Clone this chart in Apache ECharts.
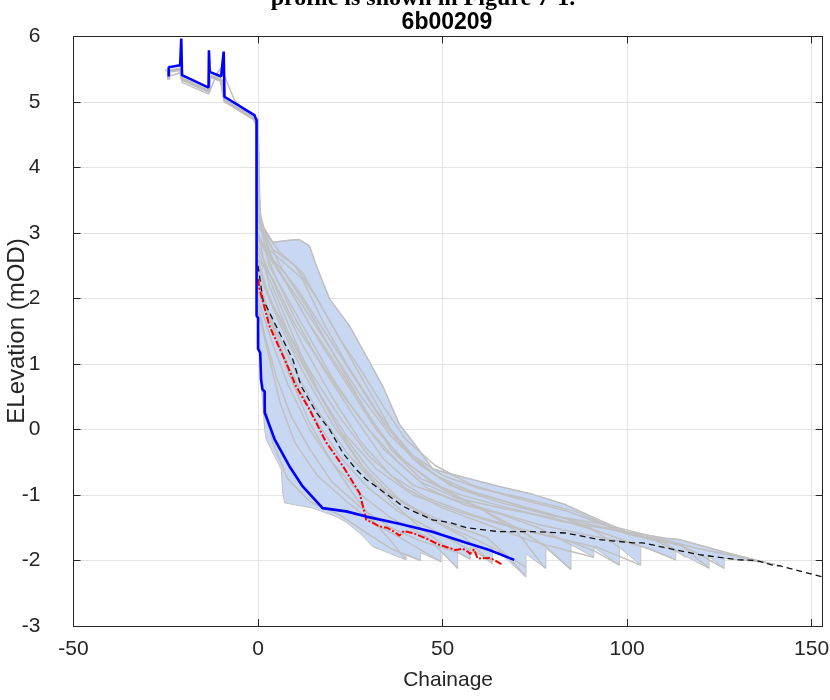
<!DOCTYPE html>
<html><head><meta charset="utf-8">
<script src="https://cdn.jsdelivr.net/npm/echarts@6/dist/echarts.min.js"></script>
<style>html,body{margin:0;padding:0;background:#fff}#c{width:830px;height:700px}</style>
</head><body><div id="c"></div>
<script>
// ---- axis settings ----
const xTickStep = 50, xMin = -50, xMax = 153;
const yTickStep = 1, yMin = -3, yMax = 6;

// ---- measured profile (blue) ----
const measured = [[-24.2,5.39],[-24.2,5.53],[-21.1,5.56],[-20.8,5.97],[-20.6,5.41],[-13.4,5.22],[-13.3,5.79],[-13.1,5.46],[-10,5.39],[-9.3,5.77],[-9.1,5.08],[-1,4.8],[-0.4,4.72],[-0.4,1.74],[0,1.7],[0,1.23],[0.6,1.17],[0.8,0.77],[1.2,0.61],[1.8,0.58],[1.8,0.26],[4.5,-0.15],[8.5,-0.56],[12.1,-0.87],[17.5,-1.2],[23.9,-1.25],[29.3,-1.33],[38.3,-1.44],[47.2,-1.56],[56.4,-1.73],[62.7,-1.84],[69.4,-1.99]];

// ---- red profile ----
const redProfile = [[0,2.3],[0.4,2.15],[3.1,1.58],[7.6,1.02],[10.3,0.66],[13.9,0.31],[18.5,-0.2],[23,-0.56],[27.5,-0.97],[28.8,-1.25],[29.3,-1.38],[31,-1.42],[32.9,-1.48],[35,-1.5],[37.4,-1.58],[38.3,-1.62],[39.5,-1.55],[41.9,-1.58],[45,-1.65],[47.3,-1.71],[49.1,-1.76],[53.6,-1.84],[55.5,-1.82],[56.7,-1.86],[57.5,-1.9],[58.5,-1.83],[59.5,-1.97],[62.7,-1.96],[64,-1.99],[66.3,-2.07]];

// ---- mean profile (black dashed) ----
const meanProfile = [[0,2.5],[1.3,1.99],[4.9,1.58],[9.4,1.07],[11.7,0.66],[15.8,0.26],[19.4,0.0],[23,-0.36],[26.6,-0.61],[29.3,-0.76],[35.6,-1.02],[39.2,-1.17],[41,-1.22],[47.3,-1.38],[52,-1.42],[56.4,-1.5],[65.4,-1.56],[74.4,-1.56],[83.4,-1.58],[92.4,-1.68],[101.5,-1.73],[104.2,-1.73],[110,-1.8],[119.5,-1.91],[130.3,-1.99],[135,-2.0],[139.4,-2.07],[141.2,-2.08],[152.9,-2.25]];

// ---- envelope (shaded) ----
const envUpper = [[0,4.75],[0.3,4.2],[0.5,3.6],[0.8,3.15],[4,2.86],[8.5,2.89],[11.2,2.9],[13.9,2.81],[15.8,2.5],[19.4,1.99],[24.8,1.58],[30,1.05],[33.8,0.66],[38.3,0.08],[42.8,-0.25],[47.3,-0.61],[56.4,-0.74],[65.4,-0.87],[74.4,-0.99],[83.4,-1.15],[92.4,-1.38],[99.7,-1.56],[110.5,-1.66],[114.1,-1.68],[127.6,-1.89],[136.7,-2.02],[140,-2.06]];
const envLower = [[0,4.75],[-0.2,4.6],[-0.2,1.75],[0.2,1.6],[0.6,1.1],[1.0,0.6],[1.8,0.0],[2.2,-0.15],[6.3,-0.61],[6.7,-0.97],[7.2,-1.12],[14.8,-1.2],[21.2,-1.33],[24,-1.42],[27.5,-1.58],[29.3,-1.68],[31.1,-1.79],[35.6,-1.89],[40.1,-1.99],[40.1,-1.9],[44,-2.0],[44,-1.88],[49.6,-2.02],[49.6,-1.86],[54.1,-2.12],[54.1,-1.88],[57.5,-1.98],[57.5,-1.8],[63.5,-2.05],[63.5,-1.78],[72.6,-2.25],[72.6,-1.9],[78,-2.12],[78,-1.81],[84.8,-2.14],[84.8,-1.76],[91,-1.95],[91,-1.8],[97.9,-2.07],[97.9,-1.8],[103.7,-2.07],[103.7,-1.78],[113.2,-1.99],[113.2,-1.86],[122.2,-2.12],[122.2,-1.94],[126.3,-2.12],[126.3,-1.97],[135.8,-2.02],[140,-2.06]];

// ---- historic profiles (grey) ----
const g01 = [[-25.1,5.5],[-23.5,5.4],[-21,5.45],[-20.6,5.3],[-13.4,5.12],[-11.1,5.44],[-10,5.52],[-6.4,5.03],[-1,4.72],[0,4.6],[0.3,3.6],[0.8,3.15],[4,2.86],[8.5,2.89],[11.2,2.9],[13.9,2.8],[15.8,2.5],[19.4,1.99],[24.8,1.58],[30,1.05],[33.8,0.66],[38.3,0.08],[42.8,-0.25],[47.3,-0.6],[56.4,-0.74],[65.4,-0.87],[74.4,-0.99],[83.4,-1.15],[92.4,-1.38],[99.7,-1.56],[110.5,-1.66],[114.1,-1.68],[127.6,-1.89],[136.7,-2.02],[140,-2.06]];
const g02 = [[0,3.6],[0.5,3.2],[3,2.7],[8,2.2],[14,1.6],[20,1.1],[28,0.4],[36,-0.3],[44,-0.75],[55,-1.0],[68,-1.2],[82,-1.4],[95,-1.52],[108,-1.68],[115,-1.78],[122.2,-2.12]];
const g03 = [[0,3.0],[5,2.3],[10,1.7],[18,0.9],[26,0.2],[34,-0.45],[42,-0.85],[52,-1.05],[64,-1.25],[76,-1.45],[88,-1.6],[100,-1.72],[106,-1.82],[113.2,-1.99]];
const g04 = [[0,2.8],[6,2.0],[12,1.3],[20,0.5],[28,-0.2],[36,-0.7],[46,-1.05],[58,-1.3],[70,-1.5],[84,-1.7],[91,-1.85],[97.9,-2.07]];
const g05 = [[0,2.5],[4,1.9],[10,1.2],[16,0.6],[24,-0.1],[32,-0.6],[42,-1.0],[54,-1.25],[66,-1.45],[78,-1.62],[92,-1.8],[103.7,-2.07]];
const g06 = [[0,3.3],[1,3.1],[6,2.5],[14,1.8],[22,1.0],[30,0.2],[38,-0.4],[48,-0.85],[60,-1.2],[70,-1.5],[78,-1.79],[84.8,-2.14]];
const g07 = [[0,2.2],[5,1.5],[10,0.9],[16,0.3],[24,-0.35],[32,-0.85],[42,-1.2],[52,-1.45],[62,-1.65],[67,-1.9],[72.6,-2.25]];
const g08 = [[0,2.9],[8,2.2],[16,1.4],[24,0.7],[32,0.0],[40,-0.5],[50,-0.9],[60,-1.2],[70,-1.55],[77.8,-2.12]];
const g09 = [[0,2.4],[6,1.6],[12,0.9],[20,0.1],[28,-0.55],[36,-1.0],[46,-1.35],[56,-1.65],[63.5,-2.05]];
const g10 = [[0,2.0],[4,1.3],[8,0.7],[14,0.0],[20,-0.5],[28,-1.0],[36,-1.35],[46,-1.65],[54.1,-2.12]];
const g11 = [[0,1.8],[3,1.1],[6,0.4],[10,-0.2],[16,-0.7],[24,-1.1],[32,-1.45],[40,-1.7],[49.6,-2.02]];
const g12 = [[0,2.7],[6,1.9],[12,1.1],[18,0.4],[24,-0.2],[30,-0.7],[36,-1.1],[44,-1.5],[50,-1.75],[57.5,-1.98]];
const g13 = [[0,1.6],[1.5,0.5],[4,-0.2],[8,-0.75],[14,-1.1],[22,-1.3],[30,-1.6],[36,-1.82],[44,-2.0]];
const g14 = [[0,2.3],[4,1.6],[8,0.9],[14,0.1],[20,-0.5],[26,-1.0],[32,-1.45],[36,-1.7],[40.1,-1.99]];
const g15 = [[0,3.2],[4,2.6],[10,2.2],[18,1.5],[26,0.8],[34,0.1],[42,-0.45],[52,-0.85],[64,-1.05],[76,-1.25],[90,-1.45],[104,-1.62],[114,-1.75],[120,-1.92],[126.3,-2.12]];
const g16 = [[0,2.95],[6,2.4],[12,1.9],[20,1.2],[28,0.5],[36,-0.1],[44,-0.55],[54,-0.9],[66,-1.12],[80,-1.32],[94,-1.45],[106,-1.62],[118,-1.8],[128,-1.92],[135.8,-2.02]];
const g17 = [[0,2.1],[8,1.0],[15,0.2],[22,-0.4],[30,-0.9],[38,-1.25],[48,-1.55],[56,-1.8],[63.5,-2.0]];
const g18 = [[0,2.6],[3,2.0],[8,1.5],[14,0.9],[22,0.2],[30,-0.4],[40,-0.9],[50,-1.2],[62,-1.45],[74,-1.7],[84,-1.85],[91,-1.95]];
const g19 = [[0,3.0],[3,2.2],[8,1.5],[15,0.7],[22,0.0],[30,-0.6],[38,-1.05],[48,-1.4],[58,-1.65],[65,-1.85],[72.6,-2.1]];
const g20 = [[0,3.4],[2,3.0],[6,2.7],[12,2.4],[18,1.8],[24,1.2],[30,0.6],[36,0.0],[42,-0.4],[50,-0.7],[60,-0.9],[72,-1.05],[86,-1.25],[100,-1.6],[110,-1.72],[115.9,-1.95]];
const g21 = [[0,3.1],[4,2.75],[10,2.5],[16,2.0],[22,1.4],[28,0.9],[34,0.35],[40,-0.15],[48,-0.55],[58,-0.85],[70,-1.05],[84,-1.25],[98,-1.55],[108,-1.7],[113.2,-1.86]];
const g22 = [[0,2.9],[6,2.6],[12,2.3],[18,1.6],[24,1.0],[32,0.3],[40,-0.3],[48,-0.7],[58,-0.95],[70,-1.15],[80,-1.3],[90,-1.5],[97.9,-1.8]];
const g23 = [[0,2.6],[4,2.3],[10,1.6],[16,1.1],[22,0.6],[30,0.0],[38,-0.5],[46,-0.9],[56,-1.15],[66,-1.3],[76,-1.5],[84.8,-1.76]];
const g24 = [[0,3.3],[3,2.5],[8,2.0],[14,1.4],[20,0.8],[26,0.3],[34,-0.3],[44,-0.8],[54,-1.05],[66,-1.2],[80,-1.35],[92,-1.55],[103.7,-1.78]];
const g25 = [[0,1.9],[2,1.4],[5,0.8],[9,0.2],[14,-0.3],[20,-0.8],[28,-1.2],[36,-1.5],[44,-1.7],[54.1,-1.88]];
const greyProfiles = [g01,g02,g03,g04,g05,g06,g07,g08,g09,g10,g11,g12,g13,g14,g15,g16,g17,g18,g19,g20,g21,g22,g23,g24,g25];
const shadowProfile = [[-24.2,5.34],[-24.2,5.47],[-21,5.5],[-20.5,5.35],[-13.3,5.16],[-13.1,5.4],[-10,5.33],[-9,5.02],[-1,4.74],[-0.2,4.66],[-0.2,3.4]];

const envPoly = envUpper.concat(envLower.slice().reverse());

const FONT = '"Liberation Sans", Arial, Helvetica, sans-serif';
const AX = '#262626';

const chart = echarts.init(document.getElementById('c'), null, {renderer:'canvas'});

const series = [];
series.push({
  type:'custom', coordinateSystem:'cartesian2d', xAxisIndex:0, yAxisIndex:0,
  data: envPoly, encode:{x:0,y:1}, z:1, silent:true, clip:true,
  renderItem: function(params, api){
    if (params.dataIndex !== 0) return null;
    const pts = envPoly.map(p => api.coord(p));
    return {type:'polygon', shape:{points:pts}, style:{fill:'rgb(200,216,243)', stroke:'#c2c2c2', lineWidth:1}};
  }
});
series.push({type:'line', data:shadowProfile, showSymbol:false, symbol:'none', z:2, silent:true,
  lineStyle:{color:'#bdbdbd', width:3.5}});
greyProfiles.forEach(function(g){
  series.push({type:'line', data:g, showSymbol:false, symbol:'none', z:3, silent:true,
    lineStyle:{color:'#c0c0c0', width:1.5}});
});
series.push({type:'line', data:meanProfile, showSymbol:false, symbol:'none', z:5, silent:true,
  lineStyle:{color:'#111', width:1.3, type:[6,4]}});
series.push({type:'line', data:redProfile, showSymbol:false, symbol:'none', z:6, silent:true,
  lineStyle:{color:'#ff0000', width:2, type:[7,2,2,2]}});
series.push({type:'line', data:measured, showSymbol:false, symbol:'none', z:7, silent:true,
  lineStyle:{color:'#0000ff', width:2.6}});

const baseX = {type:'value', min:xMin, max:xMax, interval:xTickStep};
const baseY = {type:'value', min:yMin, max:yMax, interval:yTickStep};

chart.setOption({
  animation:false,
  backgroundColor:'#ffffff',
  grid:{left:73.5, right:7.3, top:36.5, bottom:74, containLabel:false, outerBoundsMode:'none'},
  xAxis:[
    Object.assign({}, baseX, {position:'bottom',
      name:'Chainage', nameLocation:'middle', nameGap:44, nameMoveOverlap:false,
      nameTextStyle:{fontFamily:FONT, fontSize:21, color:AX},
      axisLine:{show:true, onZero:false, lineStyle:{color:AX, width:1}},
      axisTick:{show:true, inside:true, length:7, lineStyle:{color:AX}},
      axisLabel:{show:true, fontFamily:FONT, fontSize:21, color:AX, margin:13, showMaxLabel:false},
      splitLine:{show:true, lineStyle:{color:'#e3e3e3', width:1}}}),
    Object.assign({}, baseX, {position:'top',
      axisLine:{show:true, onZero:false, lineStyle:{color:AX, width:1}},
      axisTick:{show:true, inside:true, length:7, lineStyle:{color:AX}},
      axisLabel:{show:false}, splitLine:{show:false}})
  ],
  yAxis:[
    Object.assign({}, baseY, {position:'left',
      axisLine:{show:true, onZero:false, lineStyle:{color:AX, width:1}},
      axisTick:{show:true, inside:true, length:7, lineStyle:{color:AX}},
      axisLabel:{show:true, fontFamily:FONT, fontSize:21, color:AX, margin:33},
      splitLine:{show:true, lineStyle:{color:'#e3e3e3', width:1}}}),
    Object.assign({}, baseY, {position:'right',
      axisLine:{show:true, onZero:false, lineStyle:{color:AX, width:1}},
      axisTick:{show:true, inside:true, length:7, lineStyle:{color:AX}},
      axisLabel:{show:false}, splitLine:{show:false}})
  ],
  graphic:[
    {type:'text', x:423, y:11, silent:true,
     style:{text:'profile is shown in Figure 7-1.', font:'bold 24px "Liberation Serif", "Times New Roman", serif', fill:'#000', align:'center', verticalAlign:'bottom'}},
    {type:'text', x:447, y:23, silent:true,
     style:{text:'6b00209', font:'bold 23px ' + FONT, fill:'#000', align:'center', verticalAlign:'middle'}},
    {type:'text', x:17, y:331, rotation:Math.PI/2, silent:true,
     style:{text:'ELevation (mOD)', font:'24px ' + FONT, fill:AX, align:'center', verticalAlign:'middle'}}
  ],
  series: series
});
</script>
</body></html>
